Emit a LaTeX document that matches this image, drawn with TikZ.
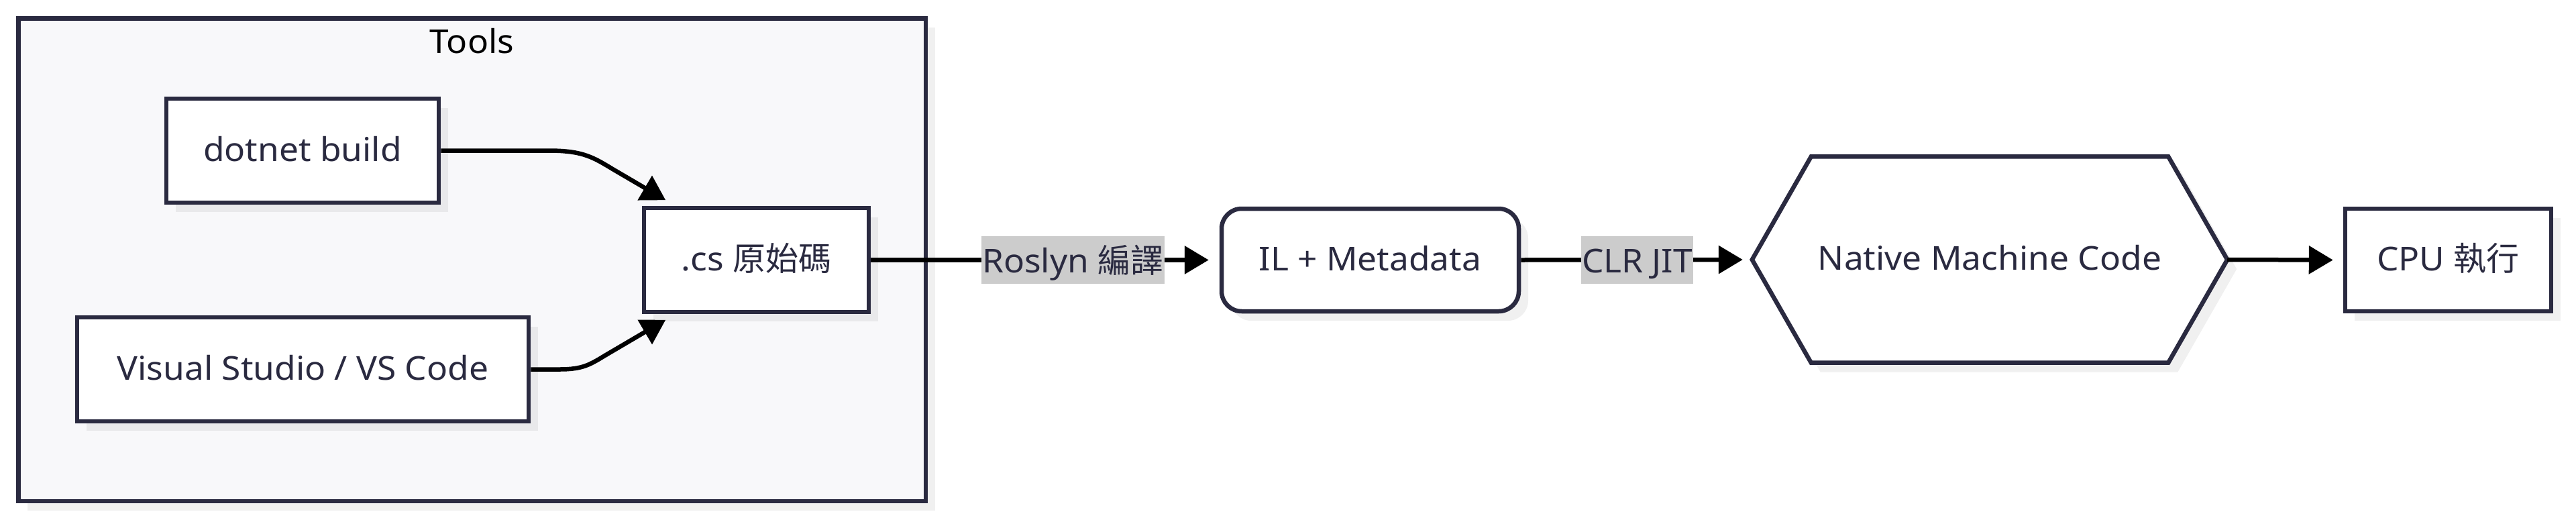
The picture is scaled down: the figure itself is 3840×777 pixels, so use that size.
\documentclass[tikz,border=0pt]{standalone}
\usepackage{fontspec}
\setmainfont[FakeStretch=1.05]{Noto Sans}
\newfontfamily\cjk{Noto Sans CJK TC}
\usetikzlibrary{arrows.meta,shadows,calc}
\pgfdeclarelayer{bg}
\pgfsetlayers{bg,main}
\definecolor{ink}{RGB}{42,42,64}
\definecolor{framefill}{RGB}{248,248,250}
\definecolor{lblgray}{RGB}{204,204,204}
\begin{document}
\begin{tikzpicture}[x=1pt,y=-1pt, font=\fontsize{49}{59}\selectfont,
  shad/.style={drop shadow={shadow xshift=14pt,shadow yshift=-14pt,fill=black,opacity=0.06}},
  box/.style={draw=ink,line width=6.5pt,fill=white,text=ink,inner sep=0pt,text height=40pt,text depth=9pt,minimum height=155pt,shad},
  roundbox/.style={box,rounded corners=30pt},
  conn/.style={draw=black,line width=6.5pt,-{Triangle[length=36pt,width=41pt]}},
  elabel/.style={fill=lblgray,text=ink,inner xsep=1pt,inner ysep=0pt,text height=40pt,text depth=2pt,minimum height=71pt}]
\useasboundingbox (0,0) rectangle (3840,777);
% group frame
\node[draw=ink,fill=framefill,line width=6.5pt,inner sep=0pt,minimum width=1352.5pt,minimum height=719.5pt,shad] (tools) at (703.5,387) {};
\node[anchor=base,text=black,inner sep=0pt] (toolsT) at (703.5,79) {Tools};
% nodes
\node[box,minimum width=406pt] (dotnet) at (451,224.5) {dotnet build};
\node[box,minimum width=673pt] (vs) at (451.5,550.5) {Visual Studio / VS Code};
\node[box,minimum width=335pt] (cs) at (1127.5,387.5) {.cs {\cjk 原始碼}};
\node[roundbox,minimum width=443pt,minimum height=153pt] (il) at (2042.5,387.5) {IL + Metadata};
\node[inner sep=0pt,minimum width=708pt,minimum height=307pt,text=ink,text height=40pt,text depth=9pt] (hex) at (2966,387) {Native Machine Code};
\begin{pgfonlayer}{bg}
\draw[draw=ink,line width=6.5pt,fill=white,line join=miter,shad]
  (hex.west) -- ([xshift=88pt]hex.north west) -- ([xshift=-88pt]hex.north east)
  -- (hex.east) -- ([xshift=-88pt]hex.south east) -- ([xshift=88pt]hex.south west) -- cycle;
\end{pgfonlayer}
\node[box,minimum width=307pt,minimum height=153pt] (cpu) at (3649.5,387.5) {CPU {\cjk 執行}};
% connectors
\draw[conn] (dotnet.east) -- (818,224.5) .. controls (870,224.5) and (885,235) .. (915,253)
  -- ([shift={(35.5,-8.5)}]cs.north west);
\draw[conn] (vs.east) -- (834,550.5) .. controls (870,550.5) and (880,543) .. (905,528)
  -- ([shift={(35.5,8.5)}]cs.south west);
\draw[conn] (cs.east) -- node[elabel,pos=0.598] (lbl1) {Roslyn {\cjk 編譯}} ([xshift=-16pt]il.west);
\draw[conn] (il.east) -- node[elabel,pos=0.524] (lbl2) {CLR JIT} ([xshift=-14pt]hex.west);
\draw[conn] (hex.east) -- ([xshift=-15pt]cpu.west);
\end{tikzpicture}
\end{document}
